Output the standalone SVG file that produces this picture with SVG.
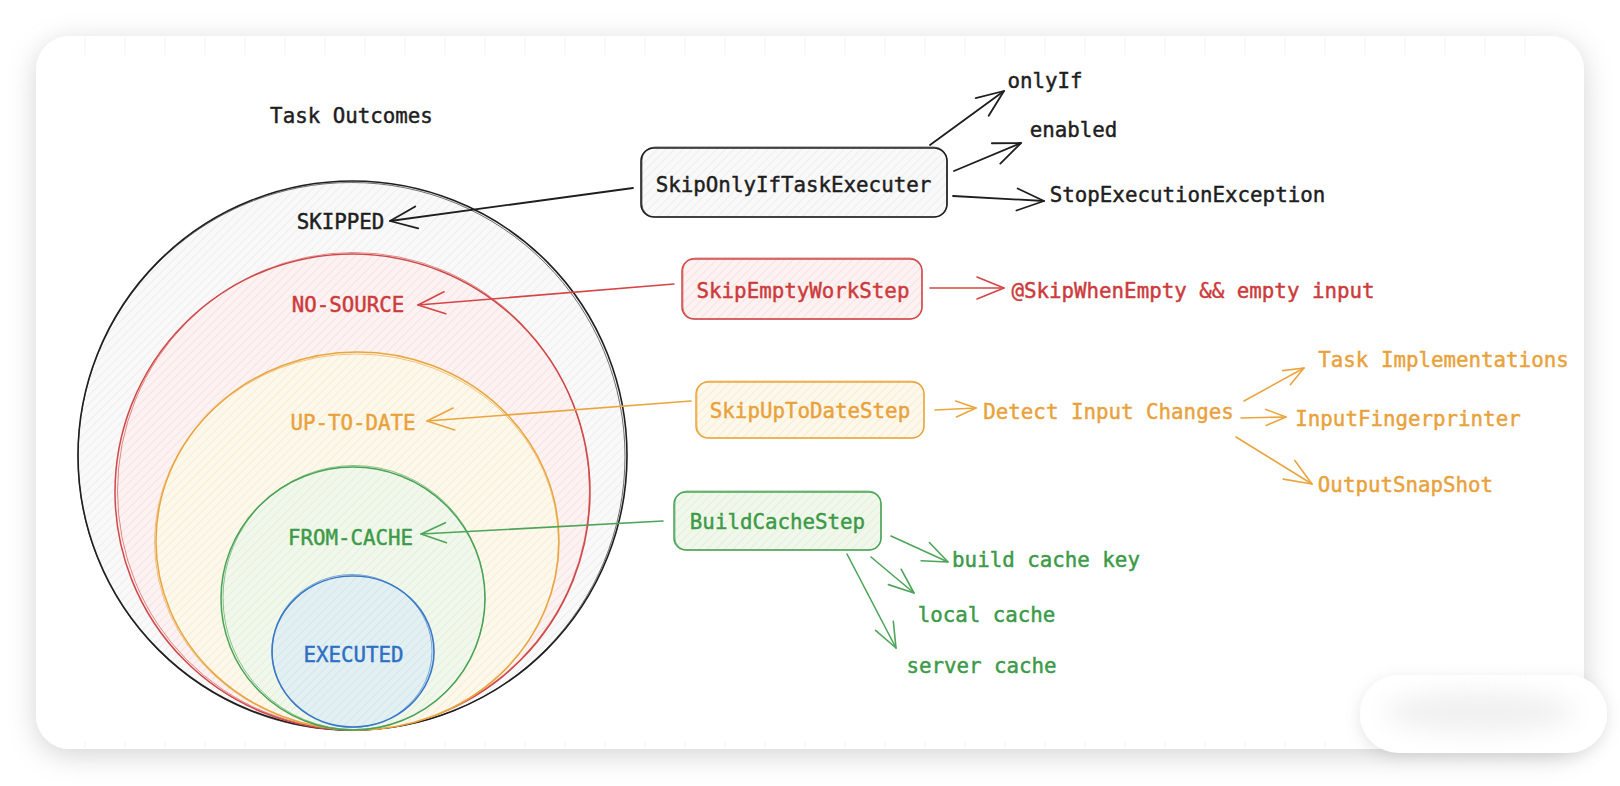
<svg xmlns="http://www.w3.org/2000/svg" width="1620" height="786" viewBox="0 0 1620 786">
<style>
text{font-family:"DejaVu Sans Mono","Liberation Mono",monospace;font-size:20.8px;text-anchor:middle;stroke-width:0.45px;paint-order:stroke}
.k{fill:#1e1e1e;stroke:#1e1e1e}.r{fill:#cc3b3b;stroke:#cc3b3b}.o{fill:#e9a23b;stroke:#e9a23b}.g{fill:#3c9a48;stroke:#3c9a48}.b{fill:#2f6fc4;stroke:#2f6fc4}
.sk{fill:none;stroke:#1e1e1e;stroke-width:1.6}
.sr{fill:none;stroke:#d04848;stroke-width:1.5}
.so{fill:none;stroke:#e9a640;stroke-width:1.5}
.sg{fill:none;stroke:#4aa356;stroke-width:1.5}
.sb{fill:none;stroke:#3a78c8;stroke-width:1.6}
.two{stroke-width:0.9;opacity:0.7}
.ck{fill:none;stroke:#1e1e1e;stroke-width:1.8;stroke-linecap:round}
.cr{fill:none;stroke:#d64545;stroke-width:1.6;stroke-linecap:round}
.co{fill:none;stroke:#eba53f;stroke-width:1.6;stroke-linecap:round}
.cg{fill:none;stroke:#4ea45a;stroke-width:1.6;stroke-linecap:round}
.tick{stroke:#f3f3f3;stroke-width:1}
</style>
<defs>
<filter id="shadow" x="-10%" y="-10%" width="120%" height="125%">
<feDropShadow dx="0" dy="6" stdDeviation="14" flood-color="#000" flood-opacity="0.17"/>
</filter>
<filter id="shadow2" x="-20%" y="-40%" width="140%" height="180%">
<feDropShadow dx="0" dy="4" stdDeviation="8" flood-color="#000" flood-opacity="0.10"/>
</filter>
<filter id="blur" x="-30%" y="-80%" width="160%" height="260%"><feGaussianBlur stdDeviation="12"/></filter>
<pattern id="hk" patternUnits="userSpaceOnUse" width="6" height="6" patternTransform="rotate(45)"><rect width="6" height="6" fill="#f9f9f9"/><line x1="0" y1="0" x2="0" y2="6" stroke="#e6e6e6" stroke-width="1.1"/></pattern>
<pattern id="hr" patternUnits="userSpaceOnUse" width="6" height="6" patternTransform="rotate(45)"><rect width="6" height="6" fill="#fcf2f2"/><line x1="0" y1="0" x2="0" y2="6" stroke="#f5d6d7" stroke-width="1.1"/></pattern>
<pattern id="ho" patternUnits="userSpaceOnUse" width="6" height="6" patternTransform="rotate(45)"><rect width="6" height="6" fill="#fdf8ec"/><line x1="0" y1="0" x2="0" y2="6" stroke="#f7e4bb" stroke-width="1.1"/></pattern>
<pattern id="hg" patternUnits="userSpaceOnUse" width="6" height="6" patternTransform="rotate(45)"><rect width="6" height="6" fill="#f1f8eb"/><line x1="0" y1="0" x2="0" y2="6" stroke="#d5ebce" stroke-width="1.1"/></pattern>
<pattern id="hb" patternUnits="userSpaceOnUse" width="6" height="6" patternTransform="rotate(45)"><rect width="6" height="6" fill="#e3f0f2"/><line x1="0" y1="0" x2="0" y2="6" stroke="#c5e1e8" stroke-width="1.1"/></pattern>
<marker id="ak" markerUnits="userSpaceOnUse" markerWidth="40" markerHeight="40" orient="auto" style="overflow:visible"><path d="M-27,-11 L0,0 L-27,11" fill="none" stroke="#1e1e1e" stroke-width="1.8" stroke-linecap="round" stroke-linejoin="round"/></marker>
<marker id="ar" markerUnits="userSpaceOnUse" markerWidth="40" markerHeight="40" orient="auto" style="overflow:visible"><path d="M-27,-11 L0,0 L-27,11" fill="none" stroke="#d64545" stroke-width="1.6" stroke-linecap="round" stroke-linejoin="round"/></marker>
<marker id="ao" markerUnits="userSpaceOnUse" markerWidth="40" markerHeight="40" orient="auto" style="overflow:visible"><path d="M-27,-11 L0,0 L-27,11" fill="none" stroke="#eba53f" stroke-width="1.6" stroke-linecap="round" stroke-linejoin="round"/></marker>
<marker id="aos" markerUnits="userSpaceOnUse" markerWidth="30" markerHeight="30" orient="auto" style="overflow:visible"><path d="M-20,-8 L0,0 L-20,8" fill="none" stroke="#eba53f" stroke-width="1.6" stroke-linecap="round" stroke-linejoin="round"/></marker>
<marker id="ag" markerUnits="userSpaceOnUse" markerWidth="40" markerHeight="40" orient="auto" style="overflow:visible"><path d="M-25,-10 L0,0 L-25,10" fill="none" stroke="#4ea45a" stroke-width="1.6" stroke-linecap="round" stroke-linejoin="round"/></marker>
</defs>

<rect width="1620" height="786" fill="#ffffff"/>
<rect x="36" y="36" width="1548" height="713" rx="34" fill="#ffffff" filter="url(#shadow)"/>
<g id="grid-ticks">
<path class="tick" d="M85,37V55M125,37V55M165,37V55M205,37V55M245,37V55M285,37V55M325,37V55M365,37V55M405,37V55M445,37V55M485,37V55M525,37V55M565,37V55M605,37V55M645,37V55M685,37V55M725,37V55M765,37V55M805,37V55M845,37V55M885,37V55M925,37V55M965,37V55M1005,37V55M1045,37V55M1085,37V55M1125,37V55M1165,37V55M1205,37V55M1245,37V55M1285,37V55M1325,37V55M1365,37V55M1405,37V55M1445,37V55M1485,37V55M1525,37V55"/>
<path class="tick" d="M85,741V748M125,741V748M165,741V748M205,741V748M245,741V748M285,741V748M325,741V748M365,741V748M405,741V748M445,741V748M485,741V748M525,741V748M565,741V748M605,741V748M645,741V748M685,741V748M725,741V748M765,741V748M805,741V748M845,741V748M885,741V748M925,741V748M965,741V748M1005,741V748M1045,741V748M1085,741V748M1125,741V748M1165,741V748M1205,741V748M1245,741V748M1285,741V748M1325,741V748"/>
</g>

<text x="351.5" y="123" class="k">Task Outcomes</text>

<g id="skipped">
<ellipse cx="352.5" cy="455.5" rx="274.5" ry="274.5" fill="url(#hk)"/>
<ellipse cx="352.5" cy="455.5" rx="274.5" ry="274.5" class="sk"/>
<ellipse cx="351.5" cy="456.5" rx="273.5" ry="274" class="sk two"/>
<text x="340.5" y="229" class="k">SKIPPED</text>
</g>
<g id="no-source">
<ellipse cx="352.5" cy="492" rx="237.5" ry="238" fill="url(#hr)"/>
<ellipse cx="352.5" cy="492" rx="237.5" ry="238" class="sr"/>
<ellipse cx="353.5" cy="491" rx="236" ry="238.5" class="sr two"/>
<text x="348" y="312" class="r">NO-SOURCE</text>
</g>
<g id="up-to-date">
<ellipse cx="357.5" cy="541" rx="201.5" ry="189" fill="url(#ho)"/>
<ellipse cx="357.5" cy="541" rx="201.5" ry="189" class="so"/>
<ellipse cx="356.5" cy="542" rx="202" ry="188" class="so two"/>
<text x="353" y="430" class="o">UP-TO-DATE</text>
</g>
<g id="from-cache">
<ellipse cx="353" cy="598.5" rx="132" ry="131.5" fill="url(#hg)"/>
<ellipse cx="353" cy="598.5" rx="132" ry="131.5" class="sg"/>
<ellipse cx="354" cy="597.5" rx="131" ry="132" class="sg two"/>
<text x="350.5" y="545" class="g">FROM-CACHE</text>
</g>
<g id="executed">
<ellipse cx="353" cy="651.5" rx="81" ry="75.5" fill="url(#hb)"/>
<ellipse cx="353" cy="651.5" rx="81" ry="75.5" class="sb"/>
<ellipse cx="352" cy="651" rx="80" ry="76.5" class="sb two"/>
<text x="353.5" y="662" class="b">EXECUTED</text>
</g>

<g id="SkipOnlyIfTaskExecuter">
<rect x="641" y="148" width="306" height="69" rx="13" fill="url(#hk)"/>
<rect x="641" y="148" width="306" height="69" rx="13" class="sk"/>
<rect x="642" y="147" width="305" height="70" rx="13" class="sk two"/>
<text x="793.5" y="192" class="k">SkipOnlyIfTaskExecuter</text>
</g>
<g id="SkipEmptyWorkStep">
<rect x="682" y="259" width="240" height="60" rx="12" fill="url(#hr)"/>
<rect x="682" y="259" width="240" height="60" rx="12" class="sr"/>
<rect x="683" y="258" width="239" height="61" rx="12" class="sr two"/>
<text x="803" y="298" class="r">SkipEmptyWorkStep</text>
</g>
<g id="SkipUpToDateStep">
<rect x="696" y="382" width="228" height="56" rx="12" fill="url(#ho)"/>
<rect x="696" y="382" width="228" height="56" rx="12" class="so"/>
<rect x="697" y="381" width="227" height="57" rx="12" class="so two"/>
<text x="810" y="418" class="o">SkipUpToDateStep</text>
</g>
<g id="BuildCacheStep">
<rect x="674" y="492" width="207" height="58" rx="12" fill="url(#hg)"/>
<rect x="674" y="492" width="207" height="58" rx="12" class="sg"/>
<rect x="675" y="491" width="206" height="59" rx="12" class="sg two"/>
<text x="777.5" y="529" class="g">BuildCacheStep</text>
</g>

<g id="onlyIf"><text x="1045" y="88" class="k">onlyIf</text></g>
<g id="enabled"><text x="1073.5" y="137" class="k">enabled</text></g>
<g id="StopExecutionException"><text x="1187.5" y="202" class="k">StopExecutionException</text></g>
<g id="SkipWhenEmpty"><text x="1193" y="298" class="r">@SkipWhenEmpty &amp;&amp; empty input</text></g>
<g id="DetectInputChanges"><text x="1108.5" y="419" class="o">Detect Input Changes</text></g>
<g id="TaskImplementations"><text x="1443.5" y="367" class="o">Task Implementations</text></g>
<g id="InputFingerprinter"><text x="1408" y="426" class="o">InputFingerprinter</text></g>
<g id="OutputSnapShot"><text x="1405.5" y="492" class="o">OutputSnapShot</text></g>
<g id="buildCacheKey"><text x="1046" y="567" class="g">build cache key</text></g>
<g id="localCache"><text x="986.5" y="622" class="g">local cache</text></g>
<g id="serverCache"><text x="981.5" y="673" class="g">server cache</text></g>

<g id="connectors">
<path class="ck" d="M633,188 L390,221" marker-end="url(#ak)"/>
<path class="ck" d="M930,145 L1004,91" marker-end="url(#ak)"/>
<path class="ck" d="M954,171 L1021,143" marker-end="url(#ak)"/>
<path class="ck" d="M953,196 L1044,201" marker-end="url(#ak)"/>
<path class="cr" d="M674,284 L418,305" marker-end="url(#ar)"/>
<path class="cr" d="M930,288 L1004,288" marker-end="url(#ar)"/>
<path class="co" d="M691,401 L427,421" marker-end="url(#ao)"/>
<path class="co" d="M935,410 L976,408" marker-end="url(#aos)"/>
<path class="co" d="M1244,401 L1304,368" marker-end="url(#aos)"/>
<path class="co" d="M1241,418 L1286,417" marker-end="url(#aos)"/>
<path class="co" d="M1236,437 L1312,484" marker-end="url(#ao)"/>
<path class="cg" d="M663,521 L421,534" marker-end="url(#ag)"/>
<path class="cg" d="M891,536 L948,562" marker-end="url(#ag)"/>
<path class="cg" d="M871,557 L914,593" marker-end="url(#ag)"/>
<path class="cg" d="M847,554 L896,648" marker-end="url(#ag)"/>
</g>

<g id="corner-badge">
<rect x="1360" y="675" width="247" height="78" rx="39" fill="#ffffff" filter="url(#shadow2)"/>
<ellipse cx="1480" cy="712" rx="95" ry="20" fill="#f0f0f0" filter="url(#blur)"/>
</g>
</svg>
